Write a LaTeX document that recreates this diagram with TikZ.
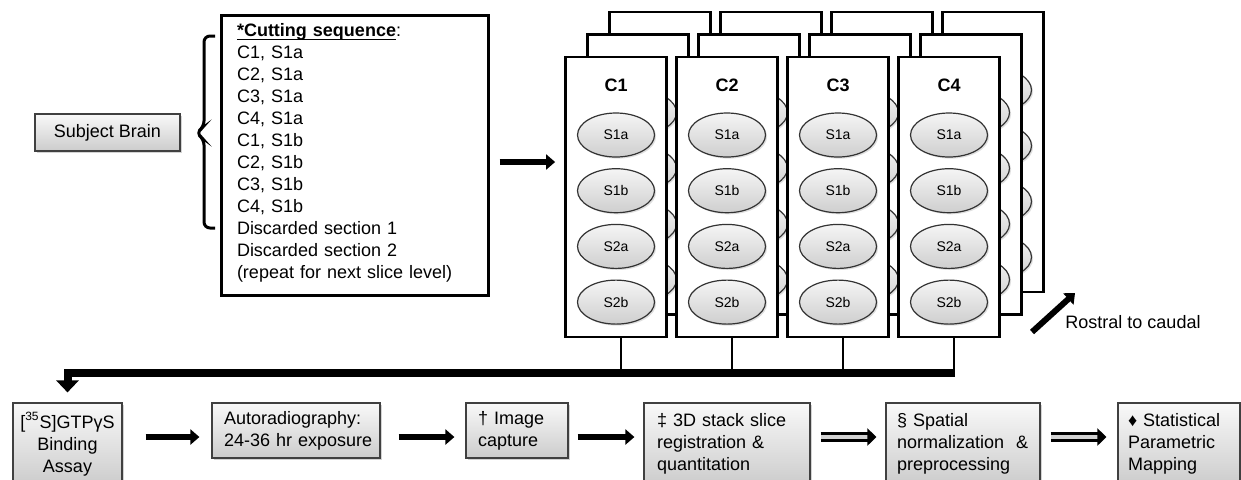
\documentclass[tikz,border=0pt]{standalone}
\usepackage{fontspec}
\setmainfont{Liberation Sans}
\usetikzlibrary{arrows.meta,shapes.geometric,shadows,calc}

\tikzstyle{stepbox}=[draw=black!75,line width=0.6pt,top color=gray!5,bottom color=gray!40,drop shadow={opacity=0.35,shadow xshift=1.2pt,shadow yshift=-1.2pt},font=\fontsize{9}{11}\selectfont,inner ysep=0pt]
\tikzstyle{card}=[draw,line width=1.4pt,fill=white,minimum width=50.5pt,minimum height=140pt,inner sep=0pt]
\tikzstyle{slice}=[ellipse,draw=black!80,line width=0.6pt,top color=gray!8,bottom color=gray!38,drop shadow={opacity=0.25,shadow xshift=0.8pt,shadow yshift=-0.8pt},minimum width=38.5pt,minimum height=22pt,inner sep=0pt,font=\fontsize{7}{8}\selectfont]
\tikzstyle{fatarrow}=[line width=3pt,-{Triangle[length=4.5pt,width=7.5pt]}]
\tikzstyle{hollowarrow}=[line width=1.2pt,double=gray!35,double distance=2.2pt,-{Triangle[length=4.5pt,width=8.5pt]}]

\begin{document}
\begin{tikzpicture}[x=0.5pt,y=-0.5pt]
  \useasboundingbox (0,0) rectangle (1241,479);
  % brain and cutting order
  \node[stepbox,minimum width=72.5pt,minimum height=18.5pt] (brain) at (107.5,132.5) {Subject Brain};
  \node[draw,line width=1.5pt,minimum height=140pt,text width=117.5pt,inner xsep=8pt,align=left,font=\fontsize{9}{11}\selectfont] (cutbox) at (354.5,155) {\underline{\smash{\textbf{*Cutting sequence}}}:\\C1, S1a\\C2, S1a\\C3, S1a\\C4, S1a\\C1, S1b\\C2, S1b\\C3, S1b\\C4, S1b\\Discarded section 1\\Discarded section 2\\(repeat for next slice level)};
  \coordinate (bracetop) at (215,36);
  \coordinate (bracebot) at (215,228);
  \draw[line width=1.5pt,rounded corners=3pt] (bracetop) -- (204,36) -- (204,127) -- (196,133) -- (204,139) -- (204,228) -- (bracebot);

  % slide stacks, back to front
  \foreach \l in {2,1,0}
    \foreach \c in {1,...,4} {
      \node[card] (card-\l-\c) at ({616+111*(\c-1)+22*\l},{197-22.5*\l}) {};
      \foreach \s [count=\k] in {S1a,S1b,S2a,S2b}
        \node[slice] (slice-\l-\c-\k) at ({616+111*(\c-1)+22*\l},{135+55.7*(\k-1)-22.5*\l}) {\ifnum\l=0 \s\fi};
    }
  \foreach \c in {1,...,4}
    \node[font=\fontsize{9}{11}\selectfont\bfseries] (label-\c) at ($(card-0-\c.north)+(0,30)$) {C\c};
  \draw[fatarrow,shorten <=5pt,shorten >=4.5pt] ([yshift=-3.5pt]cutbox.east) -- ([yshift=-3.5pt]cutbox.east -| card-0-1.west);

  \node[font=\fontsize{9}{11}\selectfont] (rostral) at (1133,322) {Rostral to caudal};
  \coordinate (rcfrom) at (1032,332);
  \coordinate (rcto) at (1075,293);
  \draw[fatarrow] (rcfrom) -- (rcto);

  % processing steps
  \node[stepbox,minimum height=41pt,text width=48.5pt,inner xsep=3pt,align=center] (assay) at (67.5,444) {[\textsuperscript{35}S]GTPγS\\Binding\\Assay};
  \node[stepbox,minimum height=27.5pt,text width=72pt,inner xsep=6pt,align=left] (autorad) at (296,430.5) {Autoradiography:\\\mbox{24-36 hr exposure}};
  \node[stepbox,minimum height=27.5pt,text width=39pt,inner xsep=6pt,align=left] (capture) at (517,430.5) {† Image\\capture};
  \node[stepbox,minimum height=41pt,text width=70pt,inner xsep=6.5pt,align=left] (stack) at (727,444) {‡ 3D stack slice\\registration \&\\quantitation};
  \node[stepbox,minimum height=41pt,text width=66pt,inner xsep=5.5pt,align=left] (spatial) at (963,444) {§ Spatial\\normalization~ \&\\preprocessing};
  \node[stepbox,minimum height=41pt,text width=51pt,inner xsep=5pt,align=left] (stats) at (1179,444) {♦ Statistical\\Parametric\\Mapping};

  % slides gathered into the assay
  \coordinate (bus) at (0,373);
  \foreach \c in {1,...,4}
    \draw[line width=1.4pt] ([xshift=2.5pt]card-0-\c.south) -- ([xshift=2.5pt]card-0-\c.south |- bus);
  \draw[line width=4pt,-{Triangle[length=6pt,width=11pt]},shorten >=5pt] ([xshift=3pt]card-0-4.south |- bus) -| (assay.north);

  \coordinate (flow) at (0,437);
  \draw[fatarrow,shorten <=11.5pt,shorten >=6pt] (assay.east |- flow) -- (autorad.west |- flow);
  \draw[fatarrow,shorten <=9pt,shorten >=5.5pt] (autorad.east |- flow) -- (capture.west |- flow);
  \draw[fatarrow,shorten <=4.5pt,shorten >=4.5pt] (capture.east |- flow) -- (stack.west |- flow);
  \draw[hollowarrow,shorten <=5pt,shorten >=4.5pt] (stack.east |- flow) -- (spatial.west |- flow);
  \draw[hollowarrow,shorten <=5pt,shorten >=5.5pt] (spatial.east |- flow) -- (stats.west |- flow);
\end{tikzpicture}
\end{document}
